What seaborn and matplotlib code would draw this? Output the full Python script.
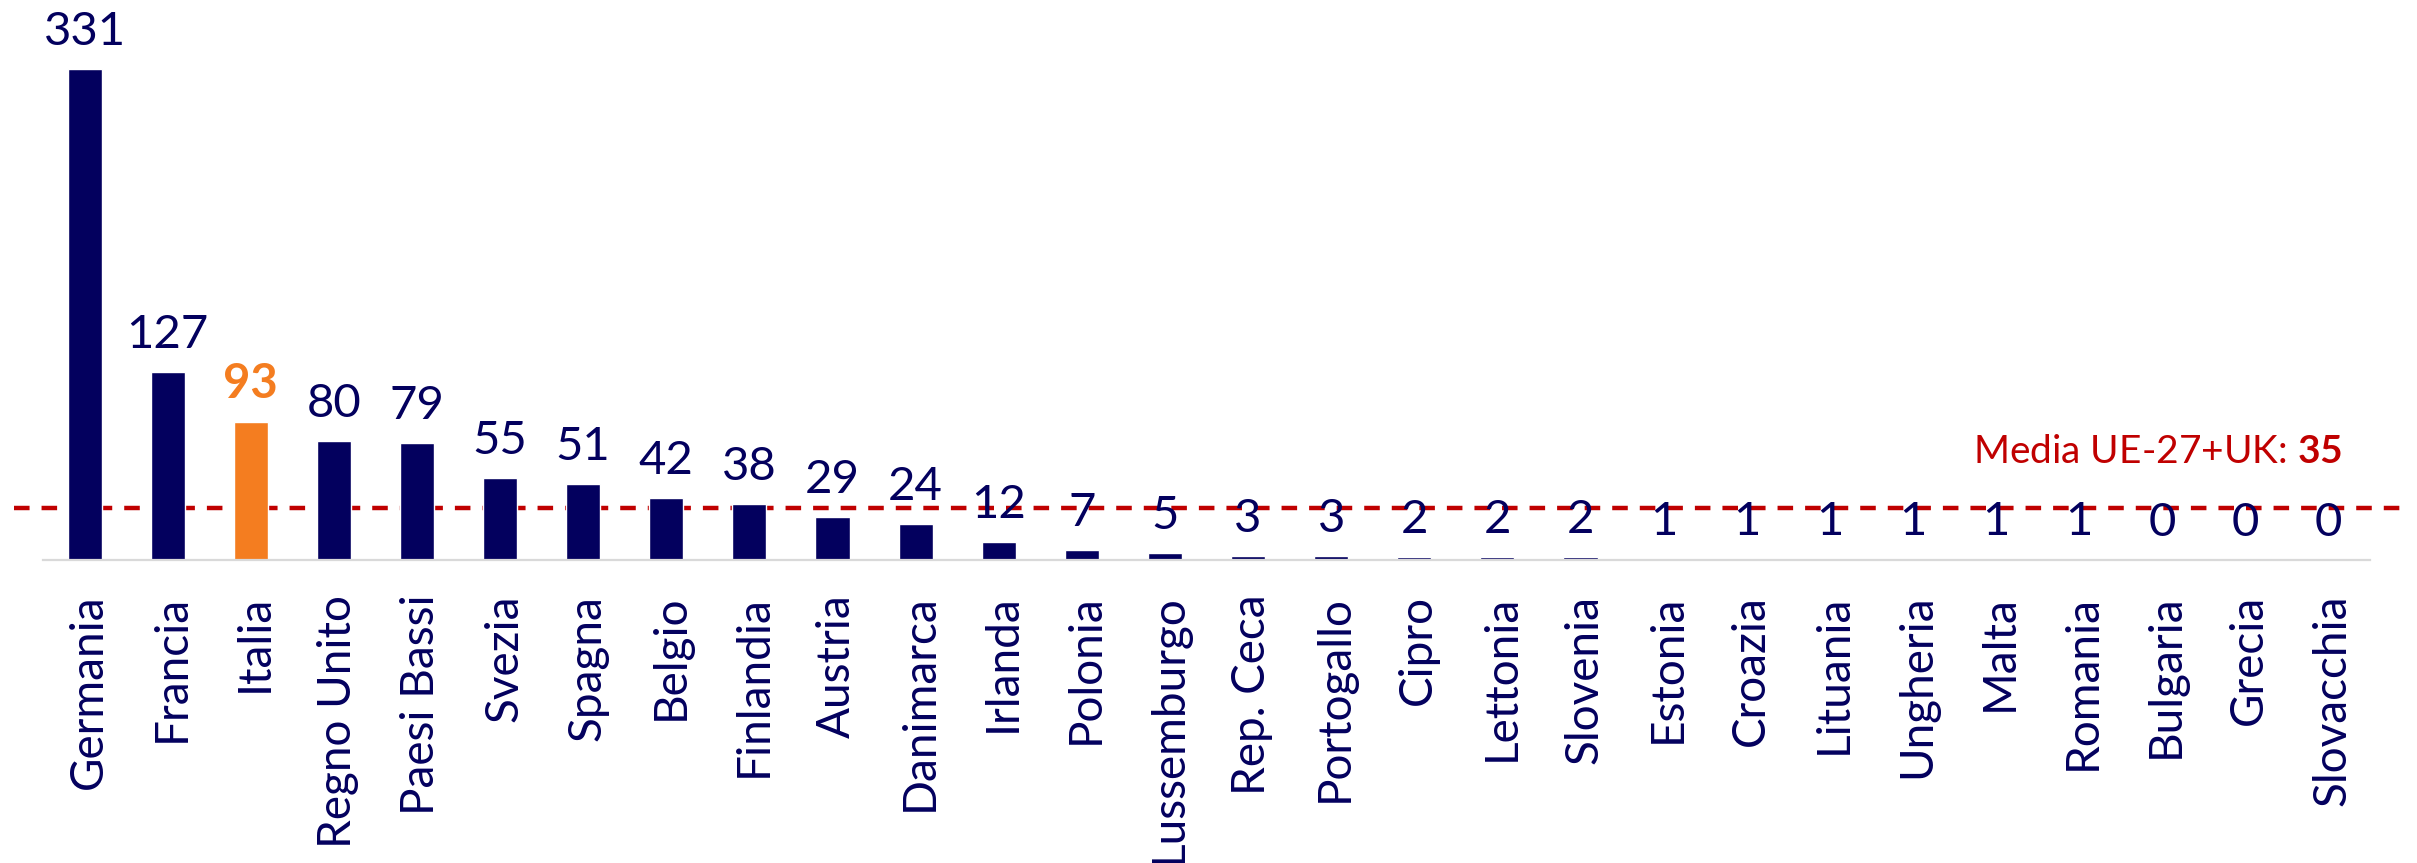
import matplotlib
matplotlib.use("Agg")
import matplotlib.pyplot as plt
import matplotlib.transforms as mtransforms
import seaborn as sns
import pandas as pd

countries = ["Germania", "Francia", "Italia", "Regno Unito", "Paesi Bassi", "Svezia",
             "Spagna", "Belgio", "Finlandia", "Austria", "Danimarca", "Irlanda",
             "Polonia", "Lussemburgo", "Rep. Ceca", "Portogallo", "Cipro", "Lettonia",
             "Slovenia", "Estonia", "Croazia", "Lituania", "Ungheria", "Malta",
             "Romania", "Bulgaria", "Grecia", "Slovacchia"]
values = [331, 127, 93, 80, 79, 55, 51, 42, 38, 29, 24, 12, 7, 5, 3, 3, 2, 2, 2,
          1, 1, 1, 1, 1, 1, 0, 0, 0]
highlight = "Italia"
media_value = 35
media_label = "Media UE-27+UK: "

NAVY = "#03005E"
ORANGE = "#F47D20"
RED = "#C00000"
GRAY = "#D9D9D9"

sns.set_theme(style="white")
plt.rcParams["font.family"] = ["Lato", "DejaVu Sans"]
plt.rcParams["mathtext.fontset"] = "custom"
plt.rcParams["mathtext.rm"] = "Lato"
plt.rcParams["mathtext.bf"] = "Lato:bold"

W, H, DPI = 2417, 863, 100
fig = plt.figure(figsize=(W / DPI, H / DPI), dpi=DPI)
left_px, right_px, base_px = 43, 2370, 560
ax = fig.add_axes([left_px / W, (H - base_px) / H, (right_px - left_px) / W, base_px / H])

df = pd.DataFrame({"country": countries, "value": values})
palette = {c: (ORANGE if c == highlight else NAVY) for c in countries}
sns.barplot(data=df, x="country", y="value", hue="country", palette=palette,
            width=0.41, legend=False, ax=ax, zorder=2, saturation=1)

ax.set_xlim(-0.5, len(countries) - 0.5)
ax.set_ylim(0, 377.6)

# average line
ax.axhline(media_value, xmin=(14 - left_px) / (right_px - left_px),
           xmax=(2405 - left_px) / (right_px - left_px), color=RED,
           linewidth=3.2, dashes=(3.5, 2.7), clip_on=False, zorder=1.5,
           solid_capstyle="butt", dash_capstyle="butt")

# value labels
for i, (c, v) in enumerate(zip(countries, values)):
    is_hl = c == highlight
    ax.annotate(str(v), xy=(i, v), xytext=(0, 24), textcoords="offset pixels",
                ha="center", va="baseline", fontsize=34,
                color=ORANGE if is_hl else NAVY,
                fontweight="bold" if is_hl else "normal", zorder=3)

fig.text(2342 / W, (H - 463) / H, media_label + r"$\mathbf{" + str(media_value) + "}$",
         ha="right", va="baseline", fontsize=28, color=RED)

ax.set_xlabel("")
ax.set_ylabel("")
ax.set_yticks([])
ax.set_xticks(range(len(countries)))
ax.set_xticklabels(countries, rotation=90, fontsize=33, color=NAVY)
ax.tick_params(axis="x", length=0, pad=25)
shift = mtransforms.ScaledTranslation(4 / DPI, 0, fig.dpi_scale_trans)
for lbl in ax.get_xticklabels():
    lbl.set_transform(lbl.get_transform() + shift)
for s in ["top", "left", "right"]:
    ax.spines[s].set_visible(False)
ax.spines["bottom"].set_color(GRAY)
ax.spines["bottom"].set_linewidth(1.6)

fig.savefig("out.png", dpi=DPI)
